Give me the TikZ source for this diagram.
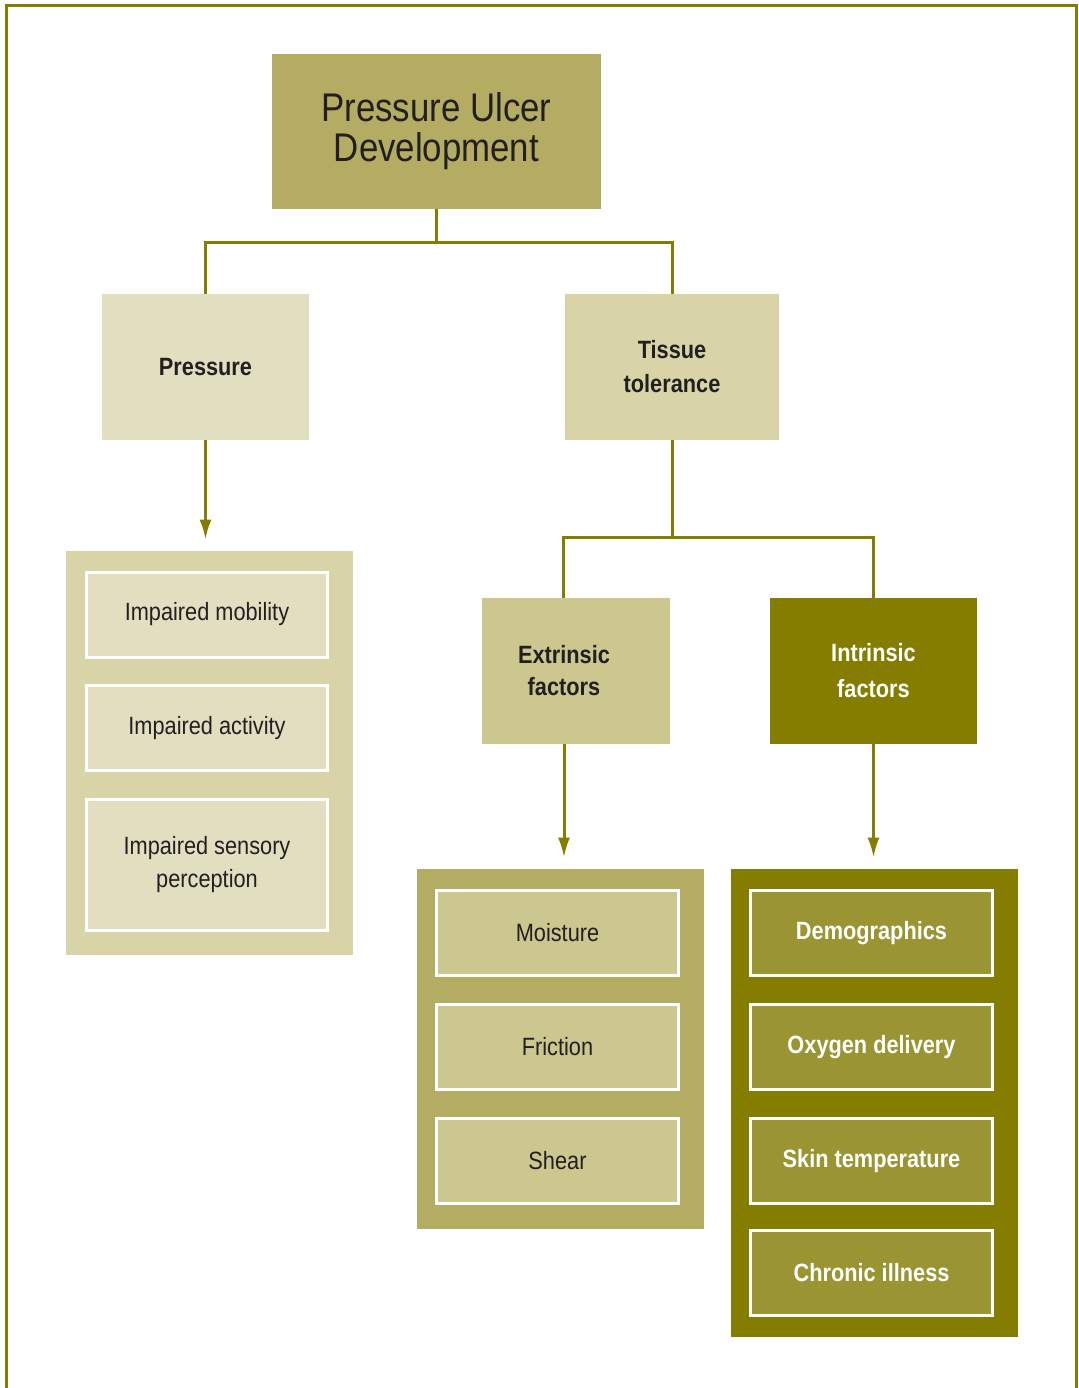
\documentclass[tikz,border=0pt]{standalone}
\usepackage{fontspec}
\setmainfont{Liberation Sans}[FakeStretch=0.87]
\usetikzlibrary{arrows.meta,positioning}

\definecolor{oliveline}{RGB}{133,125,0}
\definecolor{titlefill}{RGB}{180,172,98}
\definecolor{palefill}{RGB}{225,223,192}
\definecolor{sandfill}{RGB}{216,212,168}
\definecolor{strawfill}{RGB}{203,199,142}
\definecolor{mossfill}{RGB}{154,148,51}
\definecolor{inkdark}{RGB}{35,31,32}

\begin{document}
\begin{tikzpicture}[x=0.5pt,y=-0.5pt,
   every node/.style = {inner sep=0pt, align=center, text=inkdark},
   headbox/.style = {fill=#1, minimum width=103.5pt, minimum height=73pt,
      font=\fontsize{12.5}{17}\selectfont\bfseries},
   groupbox/.style = {fill=#1, minimum width=143.5pt},
   itembox/.style = {fill=#1, draw=white, line width=1.5pt, minimum height=42.5pt,
      font=\fontsize{12.5}{16.5}\selectfont},
   link/.style = {draw=oliveline, line width=1.5pt},
   arrow/.style = {link, -{Latex[length=10pt,width=6pt]}, shorten >=5.5pt}]
   \useasboundingbox (0,0) rectangle (1079,1388);
   % frame, open at the bottom
   \draw[oliveline, line width=1.5pt] (6,1388) -- (6,5) -- (1076,5) -- (1076,1388);

   \node[fill=titlefill, minimum width=164.5pt, minimum height=77.5pt,
      font=\fontsize{20}{20}\selectfont] (title) at (436.5,131.5) {Pressure Ulcer\\Development};
   \node[headbox=palefill] (pressure) at (205.5,367) {Pressure};
   \node[headbox=sandfill, minimum width=107pt] (tissue) at (672,367) {Tissue\\tolerance};
   \node[headbox=strawfill, minimum width=94pt,
      label={[xshift=-6pt, align=center, font=\fontsize{12.5}{16}\selectfont\bfseries]center:Extrinsic\\factors}]
      (extrinsic) at (576,671) {};
   \node[headbox=oliveline, text=white, font=\fontsize{12.5}{18}\selectfont\bfseries]
      (intrinsic) at (873.5,671) {Intrinsic\\factors};

   % groups
   \node[groupbox=sandfill, minimum height=202pt] (pressuregroup) at (209.5,753) {};
   \node[itembox=palefill, minimum width=120.5pt] (mobility) at (207,614.5) {Impaired mobility};
   \node[itembox=palefill, minimum width=120.5pt] (activity) at (207,728) {Impaired activity};
   \node[itembox=palefill, minimum width=120.5pt, minimum height=65.5pt] (sensory) at (207,865) {Impaired sensory\\perception};

   \node[groupbox=titlefill, minimum height=180pt] (extrinsicgroup) at (560.5,1049) {};
   \node[itembox=strawfill, minimum width=121pt] (moisture) at (557.5,933) {Moisture};
   \node[itembox=strawfill, minimum width=121pt] (friction) at (557.5,1047) {Friction};
   \node[itembox=strawfill, minimum width=121pt] (shear) at (557.5,1161) {Shear};

   \node[groupbox=oliveline, minimum height=234pt] (intrinsicgroup) at (874.5,1103) {};
   \node[itembox=mossfill, minimum width=121pt, text=white, font=\fontsize{12.5}{16}\selectfont\bfseries] (demographics) at (871.5,933) {Demographics};
   \node[itembox=mossfill, minimum width=121pt, text=white, font=\fontsize{12.5}{16}\selectfont\bfseries] (oxygen) at (871.5,1047) {Oxygen delivery};
   \node[itembox=mossfill, minimum width=121pt, text=white, font=\fontsize{12.5}{16}\selectfont\bfseries] (skintemp) at (871.5,1161) {Skin temperature};
   \node[itembox=mossfill, minimum width=121pt, text=white, font=\fontsize{12.5}{16}\selectfont\bfseries] (chronic) at (871.5,1273) {Chronic illness};

   % connectors
   \draw[link] (title.south) -- ++(0,33) coordinate (titlesplit) -| (pressure.north);
   \draw[link] (titlesplit) -| (tissue.north);
   \draw[link] (tissue.south) -- ++(0,97) coordinate (tissuesplit) -| ([xshift=-6.5pt]extrinsic.north);
   \draw[link] (tissuesplit) -| (intrinsic.north);
   \draw[arrow] (pressure.south) -- (pressure.south |- pressuregroup.north);
   \draw[arrow] ([xshift=-6pt]extrinsic.south) -- ([xshift=-6pt]extrinsic.south |- extrinsicgroup.north);
   \draw[arrow] (intrinsic.south) -- (intrinsic.south |- intrinsicgroup.north);
\end{tikzpicture}
\end{document}
